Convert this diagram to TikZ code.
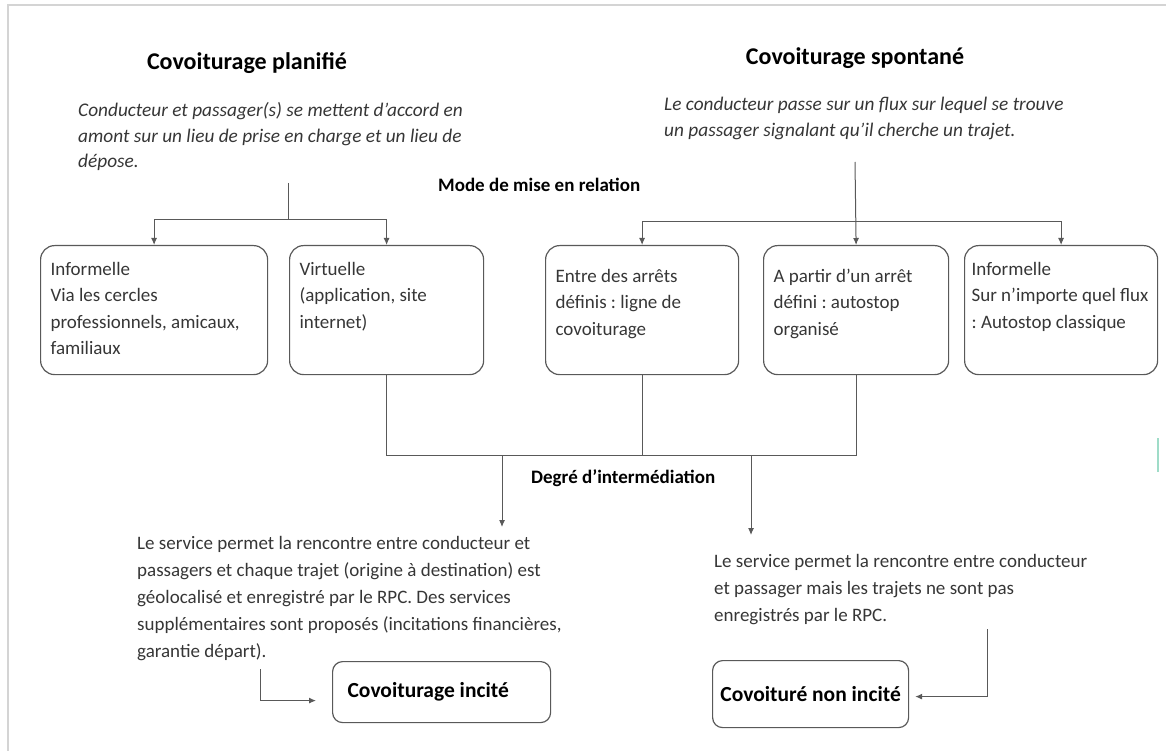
\documentclass[tikz,border=0pt]{standalone}
\usepackage{fontspec}
\setmainfont{Carlito}
\usepackage{tikz}
\usetikzlibrary{arrows.meta}
\definecolor{txtgray}{HTML}{363636}
\definecolor{linegray}{HTML}{595959}
\definecolor{framegray}{HTML}{D4D4D4}
\definecolor{marker}{HTML}{9FDCC8}
\frenchspacing

\begin{document}
\begin{tikzpicture}[x=1pt, y=-1pt,
    every node/.style={inner sep=0pt, text=txtgray, execute at begin node={\frenchspacing\spaceskip=0pt\xspaceskip=0pt\relax}},
    ttl/.style={font=\fontsize{24}{29}\selectfont\bfseries, text=black},
    hd/.style={font=\fontsize{19}{23}\selectfont\bfseries, text=black, anchor=base west},
    intro/.style={font=\fontsize{19.3}{25.5}\selectfont\itshape, align=left, anchor=north west, text height=14pt, text width=#1},
    para/.style={font=\fontsize{19}{27}\selectfont, align=left, anchor=north west, text height=14pt, text width=#1},
    modebox/.style={draw=linegray, line width=1.2pt, rounded corners=14pt, anchor=north west, font=\fontsize{19}{26.5}\selectfont, align=left, inner xsep=10pt, inner ysep=0pt, text height=29.5pt, text depth=99.5pt, text width=#1},
    resbox/.style={draw=linegray, line width=1.2pt, rounded corners=10pt, anchor=north west, font=\fontsize{21.5}{26}\selectfont\bfseries, text=black},
    link/.style={draw=linegray, line width=1pt},
    arr/.style={link, -{Latex[length=7pt,width=6pt]}}]
    \useasboundingbox (0,0) rectangle (1166,751);
    \draw[framegray, line width=2pt] (8,751) -- (8,5) -- (1166,5);
    \draw[marker, line width=2pt] (1158,438) -- (1158,472);

    % the two kinds of car-pooling
    \node[ttl] (plan) at (247,63) {Covoiturage planifié};
    \node[intro=420pt] (plantxt) at (78,102.5) {Conducteur et passager(s) se mettent d’accord en\\
        amont sur un lieu de prise en charge et un lieu de\\ dépose.};
    \node[ttl] (spont) at (855,58) {Covoiturage spontané};
    \node[intro=440pt] (sponttxt) at (664,96.5) {Le conducteur passe sur un flux sur lequel se trouve\\
        un passager signalant qu’il cherche un trajet.};
    \node[hd] (mode) at (438,192) {Mode de mise en relation};

    % modes
    \node[modebox=207pt] (b1) at (40,245) {Informelle\\ Via les cercles\\ professionnels, amicaux,\\ familiaux};
    \node[modebox=174pt] (b2) at (289,245) {Virtuelle\\ (application, site\\ internet)};
    \node[modebox=173pt, text height=36.5pt, text depth=92.5pt] (b3) at (545,245) {Entre des arrêts\\ définis : ligne de\\ covoiturage};
    \node[modebox=165pt, text height=36.5pt, text depth=92.5pt] (b4) at (763,245) {A partir d’un arrêt\\ défini : autostop\\ organisé};
    \node[modebox=179pt, inner xsep=7pt] (b5) at (964,245) {Informelle\\ Sur n’importe quel flux\\ : Autostop classique};

    \coordinate (lstem) at (288,183);
    \coordinate (lbar) at (288,220);
    \coordinate (rstem) at (855,162);
    \coordinate (rbar) at (855,222);
    \draw[link] (lstem) -- (lbar);
    \draw[arr] (lbar) -| (b1.north);
    \draw[arr] (lbar) -| (b2.north);
    \draw[arr] (rstem) -- (b4.north);
    \draw[arr] (rbar) -| (b3.north);
    \draw[arr] (rbar) -| (b5.north);

    % degree of intermediation
    \coordinate (jn) at (0,455);
    \draw[link] (b2.south) |- (b4.south |- jn) -- (b4.south);
    \draw[link] (b3.south) -- (b3.south |- jn);
    \node[hd] (deg) at (531,483) {Degré d’intermédiation};

    \node[para=480pt] (lpar) at (137,535.5) {Le service permet la rencontre entre conducteur et\\
        passagers et chaque trajet (origine à destination) est\\
        géolocalisé et enregistré par le RPC. Des services\\
        supplémentaires sont proposés (incitations financières,\\
        garantie départ).};
    \node[para=420pt] (rpar) at (714,553.5) {Le service permet la rencontre entre conducteur\\
        et passager mais les trajets ne sont pas\\
        enregistrés par le RPC.};

    \coordinate (d1) at (502,455);
    \coordinate (d2) at (751,455);
    \coordinate (t1) at (502,527);
    \coordinate (t2) at (751,535);
    \draw[arr] (d1) -- (t1);
    \draw[arr] (d2) -- (t2);

    % outcomes
    \node[resbox, text width=188pt, align=left, inner xsep=15pt, minimum height=61pt] (inc) at (332,661) {Covoiturage incité};
    \node[resbox, minimum width=196pt, minimum height=67pt] (noninc) at (712,660) {Covoituré non incité};

    \coordinate (c1) at (260,669);
    \coordinate (c2) at (987,629);
    \draw[arr] (c1) |- ([xshift=-16pt, yshift=-8.5pt]inc.west);
    \draw[arr] (c2) |- ([xshift=6pt, yshift=-2.5pt]noninc.east);
\end{tikzpicture}
\end{document}
